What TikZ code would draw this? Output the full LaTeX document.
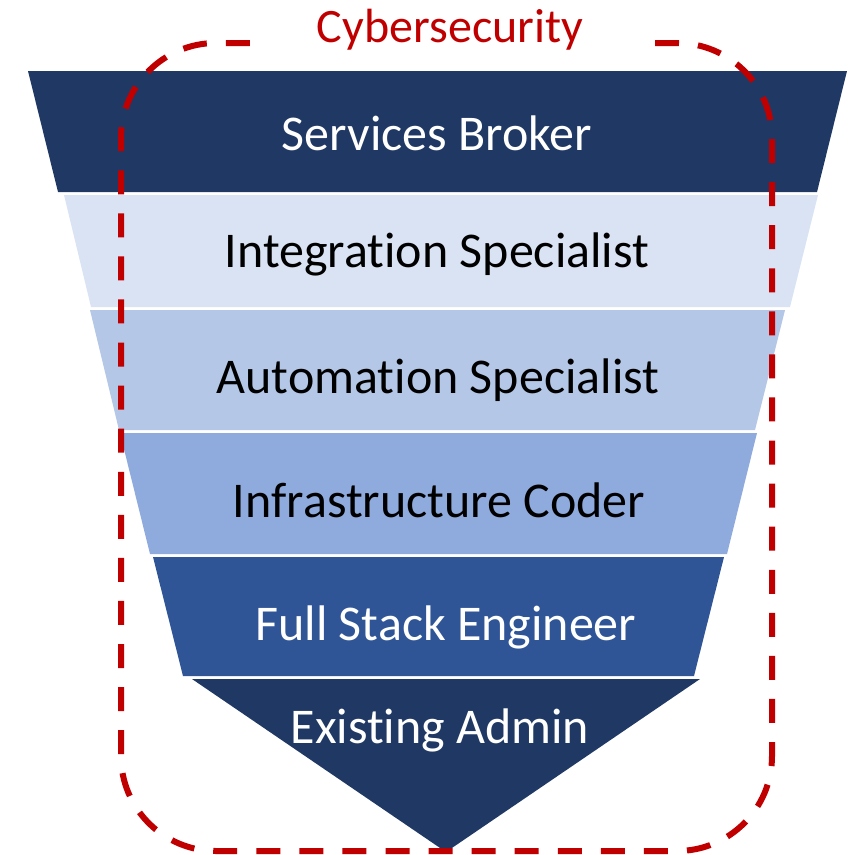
\documentclass[tikz,border=0pt]{standalone}
\usepackage{fontspec}
\setmainfont{Carlito}[Ligatures={NoCommon,NoRare}]
\definecolor{navy}{HTML}{203864}
\definecolor{midblue}{HTML}{2F5597}
\definecolor{paleblue}{HTML}{DAE3F3}
\definecolor{lightblue}{HTML}{B4C7E7}
\definecolor{softblue}{HTML}{8FAADC}
\definecolor{secred}{HTML}{C00000}
\tikzset{
  band/.style={draw=none},
  bandtext/.style={anchor=base, inner sep=0pt, font=\fontsize{50}{60}\selectfont},
  securityline/.style={draw=secred, line width=6pt, dash pattern=on 24pt off 19.07pt, rounded corners=95pt},
  securitytitle/.style={anchor=base, inner sep=0pt, text=secred, font=\fontsize{48}{58}\selectfont}
}
\begin{document}
\begin{tikzpicture}[x=1pt,y=-1pt]
\useasboundingbox (0,0) rectangle (856,854);

% funnel bands, widest at the top
\fill[band, navy]      (28,71)  -- (847,71)  -- (817,192) -- (58,192)  -- cycle;
\fill[band, paleblue]  (64,195) -- (818,195) -- (790,307) -- (91,307)  -- cycle;
\fill[band, lightblue] (90,310) -- (785,310) -- (755,430) -- (119,430) -- cycle;
\fill[band, softblue]  (120,433) -- (757,433) -- (727,554) -- (150,554) -- cycle;
\fill[band, midblue]   (153,557) -- (724,557) -- (694,676) -- (183,676) -- cycle;
\fill[band, navy]      (192,679) -- (700,679) -- (446,852) -- cycle;

% band labels
\node[bandtext, text=white] (broker)    at (437,150) {Services Broker};
\node[bandtext, text=black] (integr)    at (437,267) {Integration Specialist};
\node[bandtext, text=black] (autom)     at (438,393) {Automation Specialist};
\node[bandtext, text=black] (infra)     at (439,517) {Infrastructure Coder};
\node[bandtext, text=white] (fullstack) at (446,640) {Full Stack Engineer};
\node[bandtext, text=white] (admin)     at (440,743) {Existing Admin};

% dashed security boundary, open at the top for its title
\draw[securityline] (655,43) -- (772,43) -- (772,851) -- (121,851) -- (121,43) -- (250,43);
\node[securitytitle] (cyber) at (450,42) {Cybersecurity};
\end{tikzpicture}
\end{document}
